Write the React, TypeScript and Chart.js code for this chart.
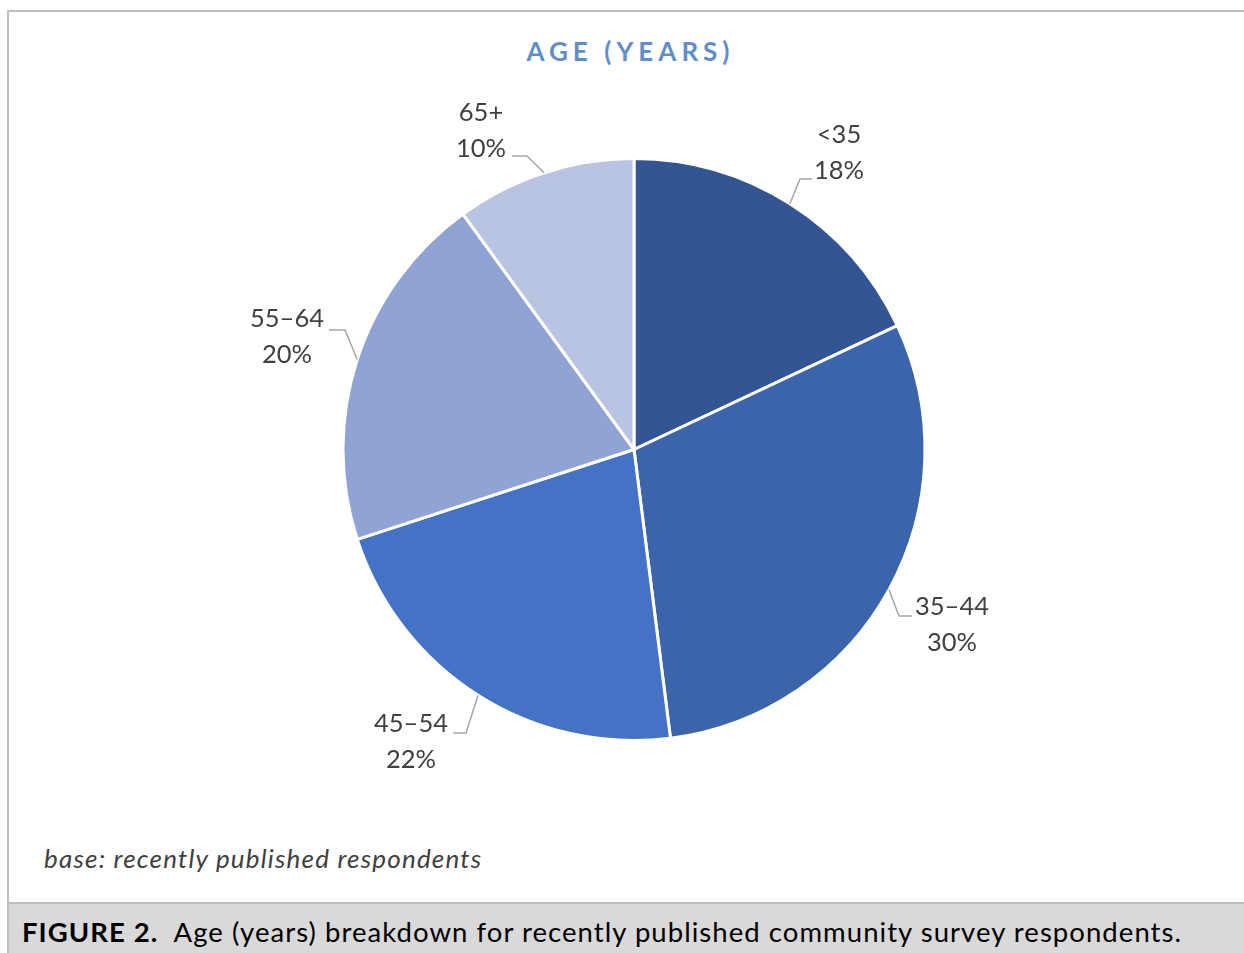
import React, { useEffect, useRef } from "react";
import { Chart, registerables } from "chart.js";

Chart.register(...registerables);

const categories = ["<35", "35–44", "45–54", "55–64", "65+"];
const shares = [18, 30, 22, 20, 10];
const percentLabels = ["18%", "30%", "22%", "20%", "10%"];
const sliceColors = ["#335593", "#3c64ab", "#4472c4", "#8fa3d4", "#b9c3e2"];

const FONT = "Lato, 'Open Sans', sans-serif";
const PIE_CX = 634;
const PIE_CY = 449.5;
const PIE_R = 291;

// label placement relative to the pie centre (text centre, leader elbow, leader end)
const labelLayout = [
  { tx: 205, ty: -296.5, ex: 166, ey: -270.5, fx: 178, fy: -270.5 },
  { tx: 318, ty: 175.5, ex: 265, ey: 166.5, fx: 278, fy: 166.5 },
  { tx: -223, ty: 292, ex: -168, ey: 283.5, fx: -181, fy: 283.5 },
  { tx: -347, ty: -112.5, ex: -289, ey: -119.5, fx: -305, fy: -119.5 },
  { tx: -153, ty: -318.5, ex: -107, ey: -293.5, fx: -122, fy: -293.5 },
];

const labelPlugin = {
  id: "outsideLabels",
  afterDraw(chart: any) {
    const ctx = chart.ctx;
    const meta = chart.getDatasetMeta(0);
    ctx.save();
    meta.data.forEach((arc: any, i: number) => {
      const mid = (arc.startAngle + arc.endAngle) / 2;
      const r = arc.outerRadius;
      const sx = arc.x + Math.cos(mid) * r;
      const sy = arc.y + Math.sin(mid) * r;
      const L = labelLayout[i];
      ctx.strokeStyle = "#a6a6a6";
      ctx.lineWidth = 1.5;
      ctx.beginPath();
      ctx.moveTo(sx, sy);
      ctx.lineTo(arc.x + L.ex, arc.y + L.ey);
      ctx.lineTo(arc.x + L.fx, arc.y + L.fy);
      ctx.stroke();
      ctx.fillStyle = "#404040";
      ctx.font = `25.5px ${FONT}`;
      ctx.textAlign = "center";
      ctx.textBaseline = "middle";
      ctx.fillText(categories[i], arc.x + L.tx, arc.y + L.ty - 18);
      ctx.fillText(percentLabels[i], arc.x + L.tx, arc.y + L.ty + 18);
    });
    ctx.restore();
  },
};

export default function App() {
  const canvasRef = useRef<HTMLCanvasElement | null>(null);

  useEffect(() => {
    if (!canvasRef.current) return;
    const W = 1244;
    const H = 953;
    const half = 300;
    const chart = new Chart(canvasRef.current, {
      type: "pie",
      data: {
        labels: categories,
        datasets: [
          {
            data: shares,
            backgroundColor: sliceColors,
            borderColor: "#ffffff",
            borderWidth: 3,
            hoverOffset: 0,
          },
        ],
      },
      options: {
        responsive: false,
        animation: false,
        radius: PIE_R,
        layout: {
          padding: {
            left: PIE_CX - half,
            right: W - (PIE_CX + half),
            top: PIE_CY - half,
            bottom: H - (PIE_CY + half),
          },
        },
        plugins: {
          legend: { display: false },
          tooltip: { enabled: false },
          title: { display: false },
        },
      } as any,
      plugins: [labelPlugin],
    });
    return () => chart.destroy();
  }, []);

  return (
    <div
      style={{
        position: "absolute",
        left: 0,
        top: 0,
        width: 1244,
        height: 953,
        background: "#ffffff",
        overflow: "hidden",
      }}
    >
      <div
        style={{
          position: "absolute",
          left: 7,
          top: 10,
          width: 1240,
          height: 950,
          borderLeft: "2px solid #bfbfbf",
          borderTop: "2px solid #bfbfbf",
          boxSizing: "border-box",
        }}
      />
      <div
        style={{
          position: "absolute",
          left: 0,
          top: 33,
          width: 1261,
          textAlign: "center",
          fontFamily: FONT,
          fontWeight: 700,
          fontSize: 26,
          letterSpacing: 5,
          color: "#5f8ec9",
          lineHeight: "36px",
        }}
      >
        AGE (YEARS)
      </div>
      <div
        style={{
          position: "absolute",
          left: 44,
          top: 840,
          fontFamily: FONT,
          fontStyle: "italic",
          fontSize: 26,
          letterSpacing: 1.2,
          color: "#404040",
          lineHeight: "36px",
          whiteSpace: "nowrap",
        }}
      >
        base: recently published respondents
      </div>
      <div
        style={{
          position: "absolute",
          left: 9,
          top: 902,
          width: 1240,
          height: 51,
          background: "#d9d9d9",
          borderTop: "2px solid #bfbfbf",
          boxSizing: "border-box",
        }}
      />
      <div
        style={{
          position: "absolute",
          left: 22,
          top: 912,
          fontFamily: FONT,
          fontSize: 27.5,
          letterSpacing: 1.05,
          color: "#000000",
          lineHeight: "40px",
          whiteSpace: "pre",
        }}
      >
        <span style={{ fontWeight: 700 }}>FIGURE 2.</span>
        {"  Age (years) breakdown for recently published community survey respondents."}
      </div>
      <canvas
        ref={canvasRef}
        width={1244}
        height={953}
        style={{ position: "absolute", left: 0, top: 0, width: 1244, height: 953 }}
      />
    </div>
  );
}
